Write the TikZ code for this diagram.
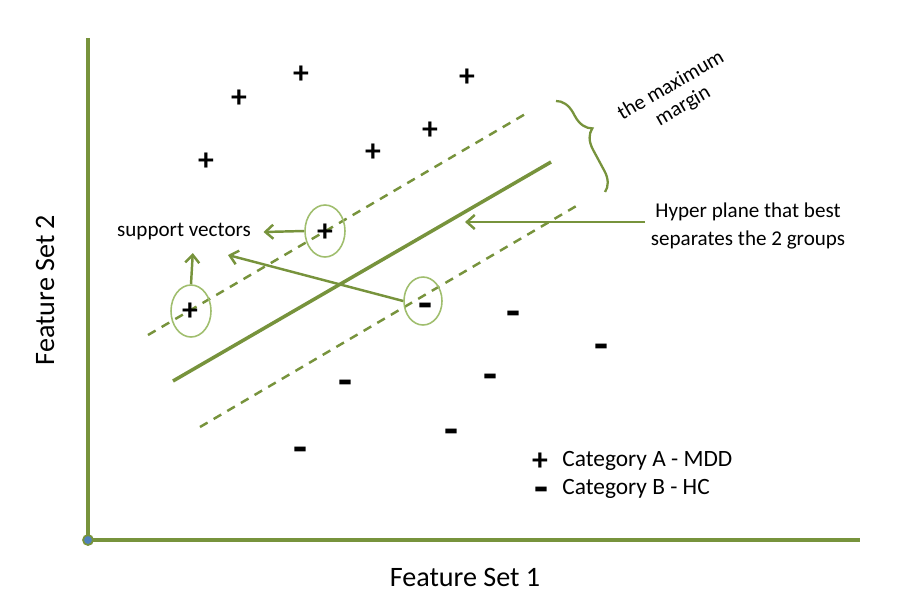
\documentclass[tikz,border=0pt]{standalone}
\usepackage{fontspec}
\setmainfont{Carlito}
\usetikzlibrary{arrows.meta,decorations.pathreplacing,shapes.geometric}
\definecolor{svmgreen}{RGB}{119,147,60}
\definecolor{ringgreen}{RGB}{160,190,110}
\definecolor{dotblue}{RGB}{79,129,189}
\tikzset{
  axisline/.style={svmgreen, line width=2.1pt},
  planeline/.style={svmgreen, line width=2pt},
  marginline/.style={svmgreen, line width=1.4pt, dash pattern=on 5pt off 4pt},
  plusmark/.style={font=\fontsize{18}{18}\selectfont\bfseries, inner sep=0pt},
  minusmark/.style={font=\fontsize{26}{26}\selectfont\bfseries, inner sep=0pt},
  ring/.style={ellipse, draw=ringgreen, line width=0.9pt, inner sep=0pt},
  pointer/.style={svmgreen, line width=1.4pt, -{Straight Barb[length=4.5pt,width=8pt]}},
  lbl/.style={font=\fontsize{12}{13}\selectfont, align=center, inner sep=1pt},
}
\begin{document}
\begin{tikzpicture}[x=0.02cm, y=-0.02cm]
  \useasboundingbox (0,0) rectangle (911,599);

  %%%%% axes %%%%%
  \coordinate (origin) at (88,540);
  \coordinate (ytop) at (88,38);
  \coordinate (xend) at (860,540);
  \draw[axisline] (ytop) -- (origin) -- (xend);
  \draw[fill=dotblue, draw=svmgreen, line width=1pt] (origin) circle (5);
  \node[font=\fontsize{16}{18}\selectfont] (xlabel) at (465,577) {Feature Set 1};
  \node[font=\fontsize{16}{18}\selectfont, rotate=90] (ylabel) at (45,290) {Feature Set 2};

  %%%%% hyper plane and margins %%%%%
  \coordinate (plane0) at (173,381);
  \coordinate (plane1) at (551,162);
  \coordinate (upper0) at (148,335);
  \coordinate (upper1) at (527,113);
  \coordinate (lower0) at (200,427);
  \coordinate (lower1) at (578,205);
  \draw[planeline] (plane0) -- (plane1);
  \draw[marginline] (upper0) -- (upper1);
  \draw[marginline] (lower0) -- (lower1);

  %%%%% category A %%%%%
  \foreach \name/\px/\py in {a1/239/99, a2/301/75, a3/467/78, a4/206/162, a5/373/153, a6/430/131, a7/325/233, a8/190/312}
    \node[plusmark] (\name) at (\px,\py) {+};

  %%%%% category B %%%%%
  \foreach \name/\px/\py in {b1/425/311, b2/513/319, b3/601/352, b4/345/388, b5/490/382, b6/451/437, b7/300/455}
    \node[minusmark] (\name) at (\px,\py) {-};

  %%%%% support vectors %%%%%
  \node[ring, minimum width=0.8cm, minimum height=1.04cm] (sv1) at (325,231) {};
  \node[ring, minimum width=0.8cm, minimum height=1.04cm] (sv2) at (191,311) {};
  \node[ring, minimum width=0.76cm, minimum height=0.96cm] (sv3) at (423,301) {};

  \node[lbl] (svlabel) at (184,232) {support vectors};
  \coordinate (svtip) at (228,255);
  \draw[pointer] (sv1.west) -- ([xshift=6]svlabel.east);
  \draw[pointer] (sv2.north) -- ([xshift=5,yshift=-6]svlabel.south);
  \draw[pointer] (sv3.west) -- (svtip);

  %%%%% hyper plane label %%%%%
  \node[lbl, font=\fontsize{12}{16}\selectfont] (planelabel) at (748,226) {Hyper plane that best\\separates the 2 groups};
  \coordinate (planetip) at (465,222);
  \draw[pointer] (645,222) coordinate (planefrom) -- (planetip);

  %%%%% margin brace %%%%%
  \coordinate (brace0) at (556,101);
  \coordinate (brace1) at (605,192);
  \draw[svmgreen, line width=1.3pt, decorate, decoration={brace, amplitude=0.38cm, aspect=0.4}] (brace0) -- (brace1);
  \node[lbl, font=\fontsize{12}{13.5}\selectfont, rotate=30] (marginlabel) at (677,96) {the maximum\\margin};

  %%%%% legend %%%%%
  \node[plusmark] (keya) at (540,462) {+};
  \node[minusmark] (keyb) at (541,495) {-};
  \node[font=\fontsize{13.3}{15}\selectfont, anchor=west, inner sep=0pt] (keyatext) at (562,461) {Category A - MDD};
  \node[font=\fontsize{13.3}{15}\selectfont, anchor=west, inner sep=0pt] (keybtext) at (562,489) {Category B - HC};
\end{tikzpicture}
\end{document}
